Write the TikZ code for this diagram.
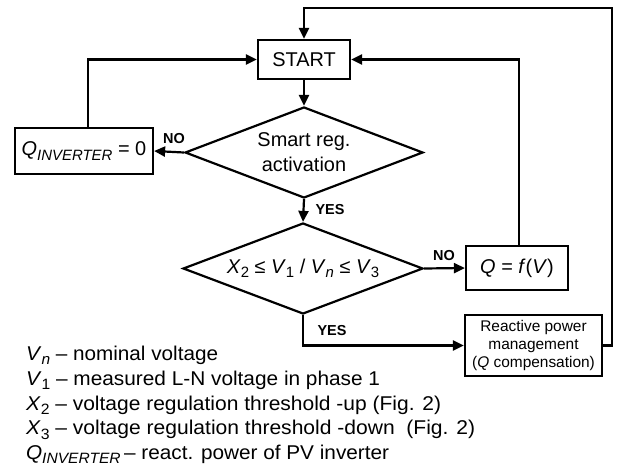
\documentclass[tikz,border=0pt]{standalone}
\usepackage{fontspec}
\usepackage{graphicx}
\setmainfont{Liberation Sans}
\usetikzlibrary{arrows.meta,shapes.geometric}
\newcommand{\mysub}[1]{\raisebox{-0.22em}{\fontsize{15}{15}\selectfont #1}}
\newcommand{\fitto}[2]{\resizebox{#1}{\height}{#2}}
\begin{document}
\begin{tikzpicture}[x=1bp,y=-1bp,
  line width=2.2bp,
  >={Triangle[length=11bp,width=10bp]},
  box/.style={draw,rectangle,inner sep=0pt,font=\fontsize{20}{24}\selectfont},
  dia/.style={draw,diamond,inner sep=0pt,align=center,font=\fontsize{20}{25}\selectfont},
  lbl/.style={font=\fontsize{14.5}{14.5}\selectfont\bfseries,inner sep=0pt},
  leg/.style={anchor=base west,inner sep=0pt,font=\fontsize{20}{24}\selectfont}]
\useasboundingbox (0,0) rectangle (619,468);
\node[box,minimum width=92bp,minimum height=39bp] (start) at (304,59.5) {START};
\node[dia,minimum width=238bp,minimum height=91bp,shape aspect=2.6] (d1) at (304,152.5) {Smart reg.\\activation};
\node[box,minimum width=138bp,minimum height=46bp] (qinv) at (84,151) {\textit{Q}\mysub{\textit{INVERTER}} = 0};
\node[dia,minimum width=240bp,minimum height=91bp,shape aspect=2.6] (d2) at (303,268.5) {\textit{X}\mysub{2} ≤ \textit{V}\mysub{1} / \textit{V}\mysub{\textit{n}} ≤ \textit{V}\mysub{3}};
\node[box,minimum width=102bp,minimum height=44bp] (qfv) at (517,268) {\textit{Q} = \textit{f}(\textit{V})};
\node[box,minimum width=137bp,minimum height=61bp,align=center,font=\fontsize{15.5}{18.5}\selectfont] (rpm) at (533.5,345.5) {Reactive power\\management\\(\textit{Q} compensation)};
\coordinate (tr) at (612,8);
\draw[->] (start.south) -- (d1.north);
\draw[->] (d1.west) -- (qinv.east);
\draw[->] ([xshift=4bp]qinv.north) |- (start.west);
\draw[->] (d1.south) -- (d2.north);
\draw[->] (d2.east) -- (qfv.west);
\draw[->] ([xshift=2bp]qfv.north) |- (start.east);
\draw[->] (d2.south) |- (rpm.west);
\draw[->] (rpm.east) -| (tr) -| (start.north);
\node[lbl] (no1) at (174,139) {NO};
\node[lbl] (yes1) at (330,210) {YES};
\node[lbl] (no2) at (444,256) {NO};
\node[lbl] (yes2) at (332,331) {YES};
\node[leg] (l1) at (25,360.5) {\fitto{192bp}{\textit{V}\mysub{\textit{n}} – nominal voltage}};
\node[leg] (l2) at (25,385.2) {\fitto{354bp}{\textit{V}\mysub{1} – measured L-N voltage in phase 1}};
\node[leg] (l3) at (25,410) {\fitto{415bp}{\textit{X}\mysub{2} – voltage regulation threshold -up (Fig. 2)}};
\node[leg] (l4) at (25,434.8) {\fitto{449bp}{\textit{X}\mysub{3} – voltage regulation threshold -down\ \ (Fig. 2)}};
\node[leg] (l5) at (25,459.6) {\fitto{363bp}{\textit{Q}\mysub{\textit{INVERTER}}\,– react. power of PV inverter}};
\end{tikzpicture}
\end{document}
